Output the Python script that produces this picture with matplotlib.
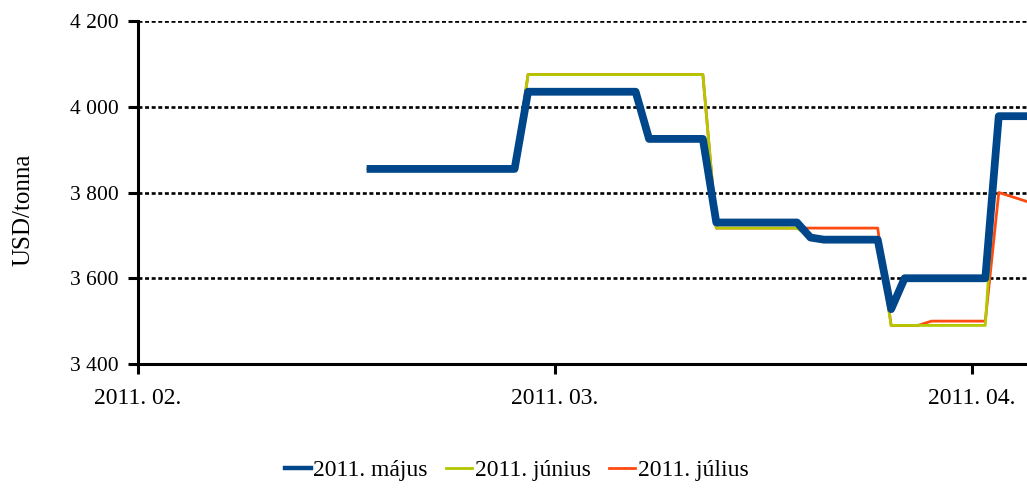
import matplotlib
matplotlib.use('Agg')
import matplotlib.pyplot as plt
from matplotlib.lines import Line2D
from matplotlib.ticker import FuncFormatter

plt.rcParams['font.family'] = ['Liberation Serif', 'DejaVu Serif']

# napi sorszám (a tengely 31 naponként jelölt)
napok = list(range(17, 68))

majus = [3855, 3855, 3855, 3855, 3855, 3855, 3855, 3855, 3855, 3855,
         3855, 3855, 4035, 4035, 4035, 4035, 4035, 4035, 4035, 4035,
         4035, 3925, 3925, 3925, 3925, 3925, 3730, 3730, 3730, 3730,
         3730, 3730, 3730, 3695, 3690, 3690, 3690, 3690, 3690, 3528,
         3600, 3600, 3600, 3600, 3600, 3600, 3600, 3978, 3978, 3978,
         3978]

junius = [3855, 3855, 3855, 3855, 3855, 3855, 3855, 3855, 3855, 3855,
          3855, 3855, 4075, 4075, 4075, 4075, 4075, 4075, 4075, 4075,
          4075, 4075, 4075, 4075, 4075, 4075, 3717, 3717, 3717, 3717,
          3717, 3717, 3717, 3695, 3690, 3690, 3690, 3690, 3690, 3490,
          3490, 3490, 3490, 3490, 3490, 3490, 3490, 3978, 3978, 3978,
          3978]

julius = [3855, 3855, 3855, 3855, 3855, 3855, 3855, 3855, 3855, 3855,
          3855, 3855, 4075, 4075, 4075, 4075, 4075, 4075, 4075, 4075,
          4075, 4075, 4075, 4075, 4075, 4075, 3717, 3717, 3717, 3717,
          3717, 3717, 3717, 3717, 3717, 3717, 3717, 3717, 3717, 3490,
          3490, 3490, 3500, 3500, 3500, 3500, 3500, 3800, 3790, 3780,
          3770]

tick_pos = [0, 31, 62]
tick_labels = ['2011. 02.', '2011. 03.', '2011. 04.']
y_ticks = [3400, 3600, 3800, 4000, 4200]

kek = '#00468a'
zold = '#b3c800'
narancs = '#ff4a12'

fig = plt.figure(figsize=(10.27, 4.88), dpi=100)
ax = fig.add_axes([138 / 1027, 124 / 488, 889 / 1027, 343 / 488])

for y in y_ticks[1:]:
    ax.axhline(y, color='black', lw=1.9, linestyle=(0, (1.5, 1.0)), zorder=1)

ax.plot(napok, julius, color=narancs, lw=2, zorder=2, solid_capstyle='butt')
ax.plot(napok, junius, color=zold, lw=2, zorder=3, solid_capstyle='butt')
ax.plot(napok, majus, color=kek, lw=5.6, zorder=4,
        solid_joinstyle='round', solid_capstyle='butt')

ax.set_xlim(0, 66.1)
ax.set_ylim(3400, 4200)
ax.set_xticks(tick_pos)
ax.set_xticklabels(tick_labels, fontsize=17)
ax.set_yticks(y_ticks)
ax.yaxis.set_major_formatter(FuncFormatter(lambda v, p: f'{int(v):,}'.replace(',', ' ')))

for s in ['top', 'right']:
    ax.spines[s].set_visible(False)
ax.spines['left'].set_linewidth(2.2)
ax.spines['bottom'].set_linewidth(2.2)
ax.tick_params(axis='both', length=7, width=2.2, colors='black')
ax.tick_params(axis='y', labelsize=15.5, pad=7)
ax.tick_params(axis='x', pad=10)
ax.set_ylabel('USD/tonna', fontsize=18)
ax.yaxis.set_label_coords(-0.117, 0.45)

kezelok = [Line2D([], [], color=kek, lw=3.2),
           Line2D([], [], color=zold, lw=2),
           Line2D([], [], color=narancs, lw=2)]
fig.legend(kezelok, ['2011. május', '2011. június', '2011. július'], loc='center',
           bbox_to_anchor=(0.503, 18 / 488), ncol=3, frameon=False, fontsize=17,
           handlelength=1.1, handletextpad=0.1, columnspacing=0.8)

fig.savefig('out.png', dpi=100)
